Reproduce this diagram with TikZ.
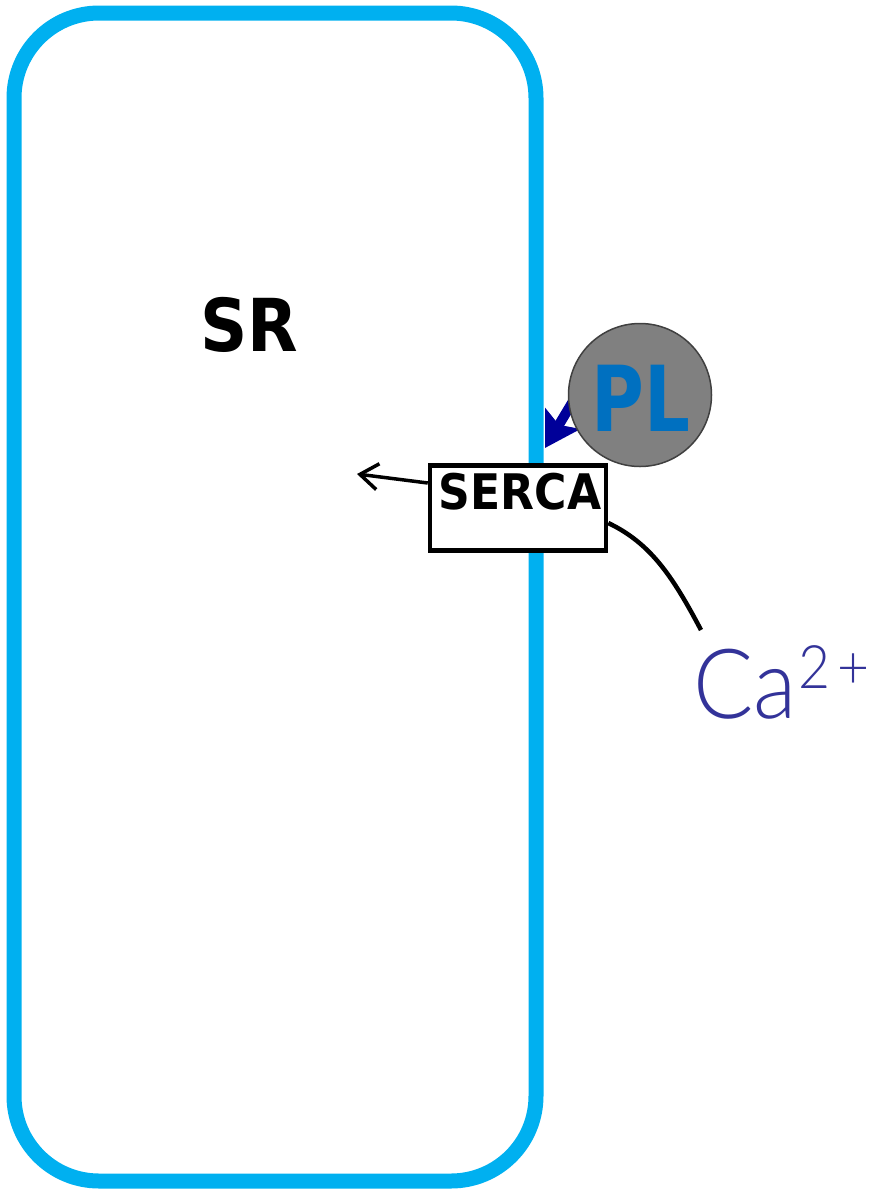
\documentclass[tikz,border=0pt]{standalone}
\usepackage{fontspec}
\newfontfamily\dvc{DejaVu Sans Condensed}
\newfontfamily\lat{Lato Light}
\usetikzlibrary{arrows.meta}
\definecolor{membrane}{HTML}{00B0F0}
\definecolor{plblue}{HTML}{0070C0}
\definecolor{navyarrow}{HTML}{000099}
\definecolor{caviolet}{HTML}{333399}
\definecolor{plgray}{HTML}{808080}
\definecolor{plborder}{HTML}{404040}
\tikzset{
  membraneline/.style={draw=membrane, line width=15pt, rounded corners=85pt},
  pumpbox/.style={draw=black, fill=white, line width=4.5pt, minimum width=176pt, minimum height=85pt, inner sep=0pt},
  plcircle/.style={circle, fill=plgray, draw=plborder, line width=1.5pt, minimum size=143pt, inner sep=0pt},
  flowarrow/.style={draw=black, line width=3.5pt, -{Straight Barb[length=18pt,width=26pt]}},
  inhibit/.style={draw=navyarrow, line width=10pt, -{Stealth[length=34pt,width=40pt,inset=7pt]}},
}
\begin{document}
\begin{tikzpicture}[x=1pt,y=-1pt]
\useasboundingbox (0,0) rectangle (875,1197);
\draw[membraneline] (14,13) rectangle (536,1181);
\node (sr) at (249,325) {\fontsize{73}{73}\selectfont\dvc\bfseries SR};
\coordinate (srin) at (357,474);
\coordinate (plbase) at (578,393);
\coordinate (pltip) at (545,448);
\draw[inhibit] (plbase) -- (pltip);
\node[plcircle] (pl) at (640,395) {};
\node[text=plblue, xscale=0.88] (pltext) at (641,398) {\fontsize{91}{91}\selectfont\dvc\bfseries PL};
\node[pumpbox] (serca) at (518,508) {};
\node[anchor=north, inner sep=0pt] (sercatext) at (520,473) {\fontsize{49}{49}\selectfont\dvc\bfseries SERCA};
\draw[flowarrow] (serca.west |- 0,483) -- (srin);
\node[anchor=base west, inner sep=0pt, text=caviolet, xscale=0.92] (ca) at (693,718) {\fontsize{97}{97}\selectfont\lat Ca\raisebox{30pt}{\fontsize{60}{60}\selectfont\kern2pt 2\kern8pt+}};
\coordinate (castart) at (701,630);
\draw[line width=4.5pt] (castart) .. controls (672,575) and (650,543) .. (serca.east |- 0,523);
\end{tikzpicture}
\end{document}
